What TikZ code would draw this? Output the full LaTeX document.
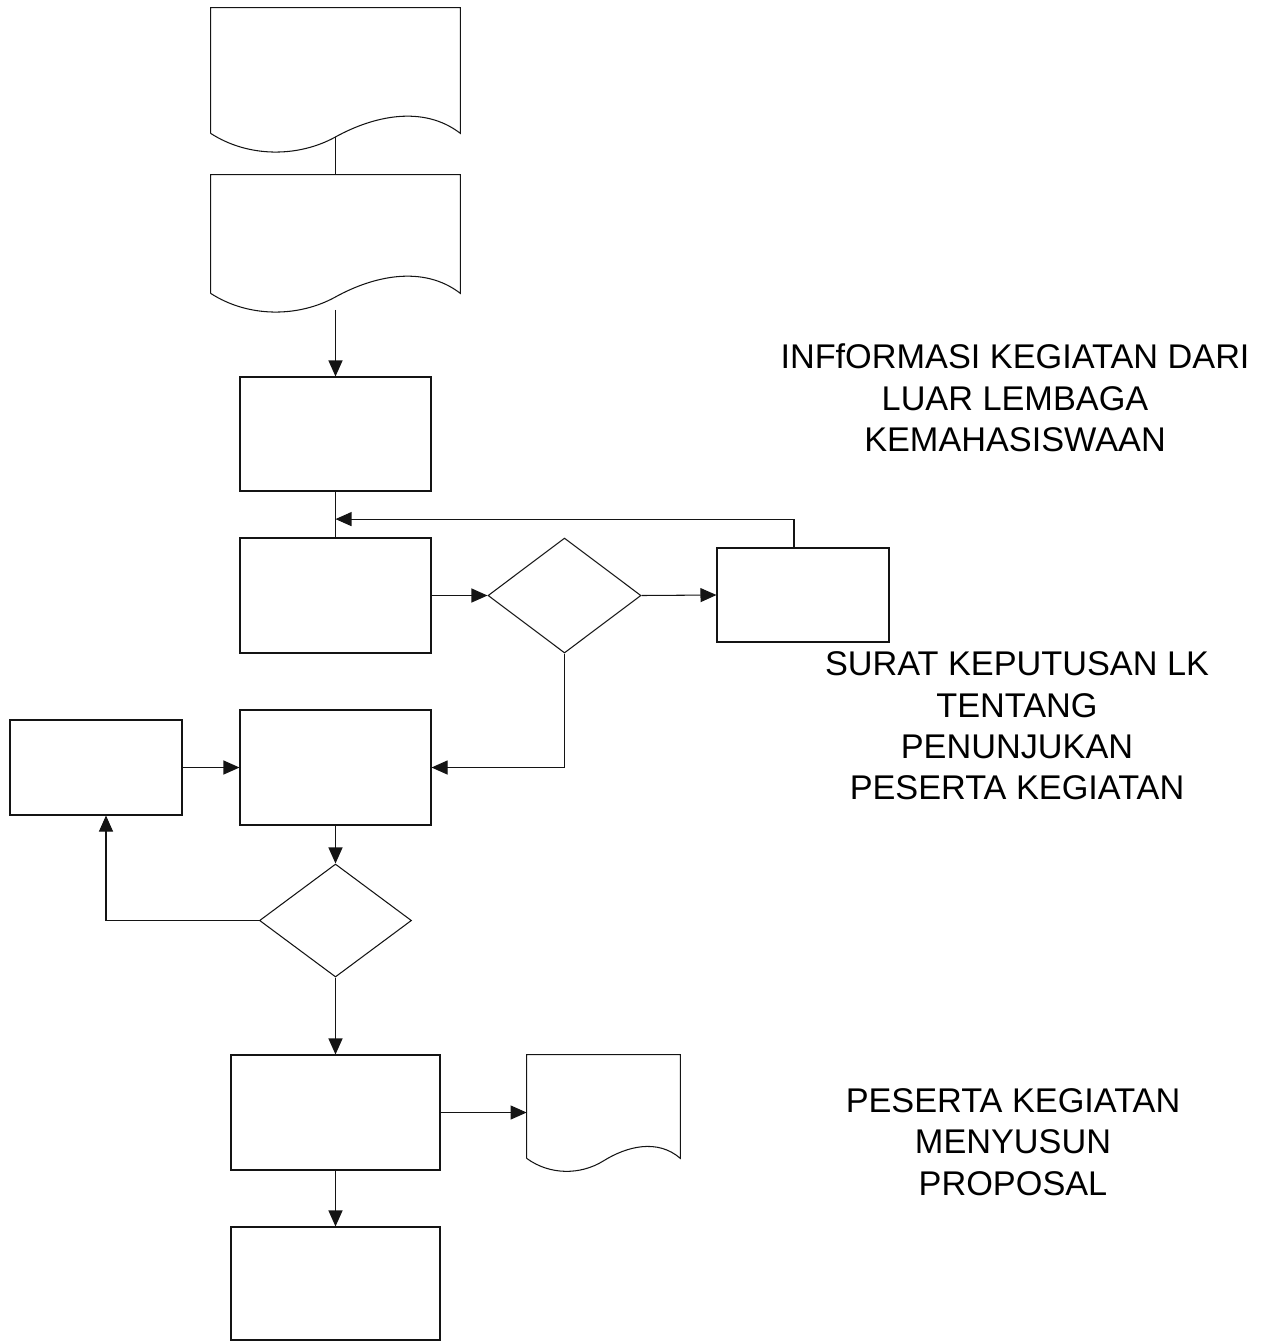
\documentclass[tikz,border=0pt]{standalone}
\usepackage{fontspec}
\setmainfont{Liberation Sans}
\usepackage{tikz}
\usetikzlibrary{shapes.geometric, arrows.meta, positioning, calc}
\definecolor{mydark}{RGB}{20,20,20}
\tikzset{
  procbox/.style={rectangle, draw=mydark, fill=white, inner sep=0pt, line width=0.6pt},
  docbox/.style={rectangle, draw=none, inner sep=0pt},
  decbox/.style={diamond, draw=mydark, fill=white, inner sep=0pt, line width=0.6pt},
  note/.style={align=center, font=\fontsize{19.5}{23.5}\selectfont},
  arrow/.style={-{Triangle[length=0.32cm,width=0.28cm]}, line width=0.6pt, color=mydark},
  line/.style={line width=0.6pt, color=mydark}
}
% outline of a document symbol round a docbox node, #2 = wave height
\newcommand{\docoutline}[2]{%
  \draw[line] (#1.south west) -- (#1.north west) -- (#1.north east) -- (#1.south east)
    .. controls ($(#1.south west)!0.85!(#1.south east)+(0,1.6*#2)$)
       and ($(#1.south west)!0.65!(#1.south east)+(0,0.95*#2)$) .. ($(#1.south)+(0,-0.2*#2)$)
    .. controls ($(#1.south west)!0.35!(#1.south east)+(0,-1.35*#2)$)
       and ($(#1.south west)!0.15!(#1.south east)+(0,-1.35*#2)$) .. (#1.south west);
  \coordinate (#1-w) at ($(#1.south)+(0,-0.2*#2)$);
}

\begin{document}
\begin{tikzpicture}
  \useasboundingbox (0,0) rectangle (25.28,-26.84);

  % documents at the top
  \node[docbox, minimum width=4.98cm, minimum height=2.5cm] (d1) at (6.71,-1.41) {};
  \docoutline{d1}{0.36}
  \node[docbox, minimum width=4.98cm, minimum height=2.36cm] (d2) at (6.71,-4.68) {};
  \docoutline{d2}{0.36}
  \coordinate (d2out) at ($(d2-w)+(0,-0.26)$);

  % process chain
  \node[procbox, minimum width=3.82cm, minimum height=2.28cm] (b3) at (6.71,-8.68) {};
  \node[procbox, minimum width=3.82cm, minimum height=2.3cm] (b4) at (6.71,-11.91) {};
  \node[decbox, minimum width=3.06cm, minimum height=2.3cm] (dm1) at (11.29,-11.91) {};
  \node[procbox, minimum width=3.44cm, minimum height=1.88cm] (r1) at (16.06,-11.9) {};
  \node[procbox, minimum width=3.82cm, minimum height=2.3cm] (b5) at (6.71,-15.35) {};
  \node[procbox, minimum width=3.44cm, minimum height=1.9cm] (l1) at (1.92,-15.35) {};
  \node[decbox, minimum width=3.04cm, minimum height=2.26cm] (dm2) at (6.71,-18.41) {};
  \node[procbox, minimum width=4.18cm, minimum height=2.3cm] (b6) at (6.71,-22.25) {};
  \node[docbox, minimum width=3.06cm, minimum height=2.06cm] (d3) at (12.07,-22.13) {};
  \docoutline{d3}{0.25}
  \node[procbox, minimum width=4.18cm, minimum height=2.26cm] (b7) at (6.71,-25.67) {};
  \coordinate (j1) at ($(b3.south)!0.6!(b4.north)$);

  % connectors
  \draw[line] (d1-w) -- (d2.north);
  \draw[arrow] (d2out) -- (b3.north);
  \draw[line] (b3.south) -- (b4.north);
  \draw[arrow] ([xshift=-0.18cm]r1.north) |- (j1);
  \draw[arrow] (b4.east) -- (dm1.west);
  \draw[arrow] (dm1.east) -- (r1.west);
  \draw[arrow] (dm1.south) |- (b5.east);
  \draw[arrow] (l1.east) -- (b5.west);
  \draw[arrow] (b5.south) -- (dm2.north);
  \draw[arrow] (dm2.west) -| ([xshift=0.2cm]l1.south);
  \draw[arrow] (dm2.south) -- (b6.north);
  \draw[arrow] (b6.east) -- (b6.east -| d3.west);
  \draw[arrow] (b6.south) -- (b7.north);

  % notes
  \node[note] (n1) at (20.3,-7.96) {INFfORMASI KEGIATAN DARI\\LUAR LEMBAGA\\KEMAHASISWAAN};
  \node[note] (n2) at (20.34,-14.52) {SURAT KEPUTUSAN LK\\TENTANG\\PENUNJUKAN\\PESERTA KEGIATAN};
  \node[note] (n3) at (20.26,-22.84) {PESERTA KEGIATAN\\MENYUSUN\\PROPOSAL};
\end{tikzpicture}
\end{document}
